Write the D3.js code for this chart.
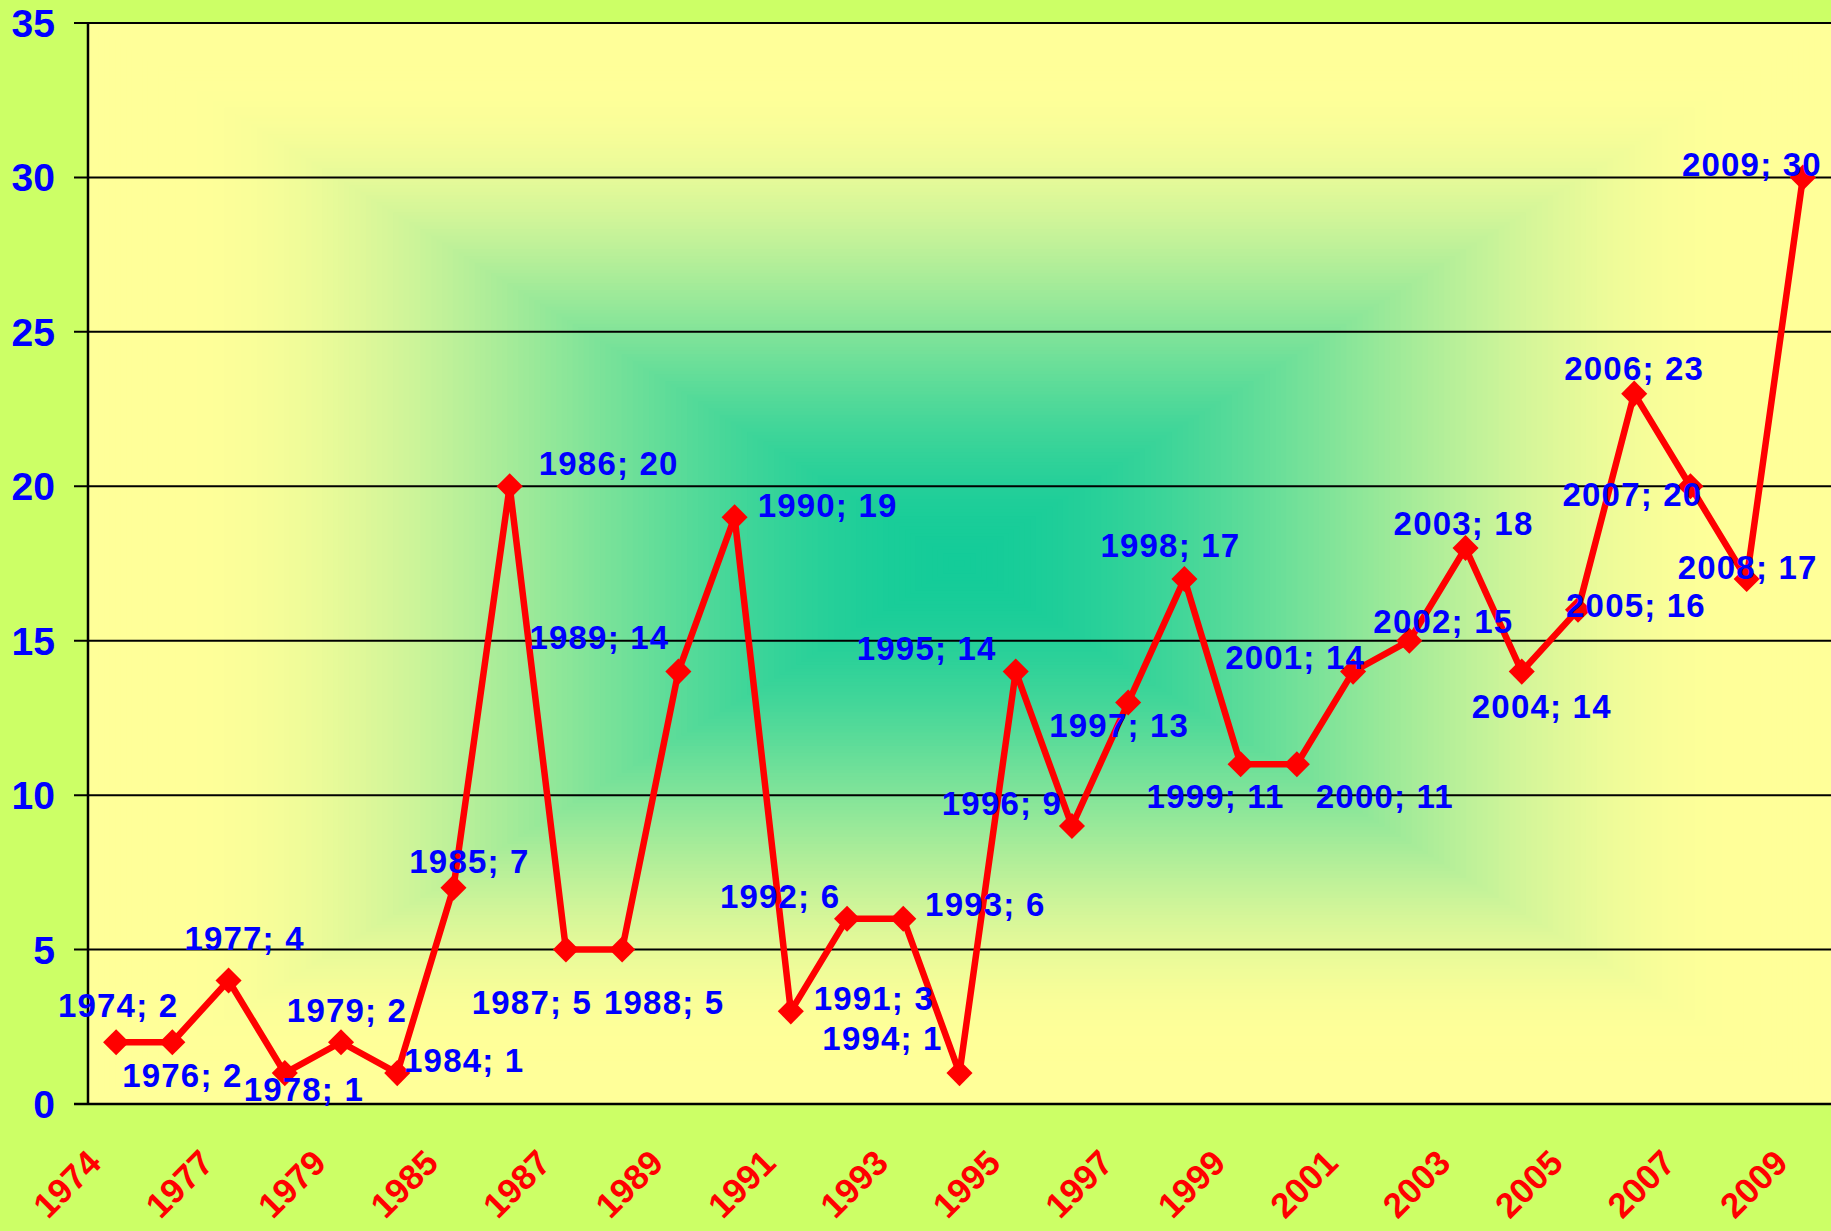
<!DOCTYPE html>
<html>
<head>
<meta charset="utf-8">
<script src="https://cdn.jsdelivr.net/npm/d3@7"></script>
<style>
  body { margin: 0; background: #ccff66; }
  svg { display: block; }
</style>
</head>
<body>
<div id="chart"></div>
<script>
// data
const years = ["1974", "1976", "1977", "1978", "1979", "1984", "1985", "1986", "1987", "1988",
  "1989", "1990", "1991", "1992", "1993", "1994", "1995", "1996", "1997", "1998",
  "1999", "2000", "2001", "2002", "2003", "2004", "2005", "2006", "2007", "2008", "2009"];
const values = [2, 2, 4, 1, 2, 1, 7, 20, 5, 5,
  14, 19, 3, 6, 6, 1, 14, 9, 13, 17,
  11, 11, 14, 15, 18, 14, 16, 23, 20, 17, 30];
const yTicks = [0, 5, 10, 15, 20, 25, 30, 35];
const tickYears = ["1974", "1977", "1979", "1985", "1987", "1989", "1991", "1993",
  "1995", "1997", "1999", "2001", "2003", "2005", "2007", "2009"];

// where each data label sits relative to its marker (layout only)
const labelOffsets = [[2, -37], [10, 33], [16, -42], [19, 16], [6, -32], [67, -13], [16, -27],
  [99, -23], [-34, 53], [42, 53], [-79, -34], [93, -12], [83, -13], [-67, -23], [82, -15],
  [-77, -35], [-89, -23], [-70, -23], [-9, 23], [-14, -34], [-25, 32], [88, 32], [-58, -14],
  [34, -20], [-2, -25], [20, 35], [58, -5], [0, -26], [-58, 8], [1, -12], [-51, -13]];

const width = 1831, height = 1231;
const margin = { top: 23, right: 0, bottom: 127, left: 88 };
const innerW = width - margin.left - margin.right;
const innerH = height - margin.top - margin.bottom;

const svg = d3.select("#chart")
  .append("svg")
  .attr("width", width)
  .attr("height", height);

svg.append("rect")
  .attr("width", width)
  .attr("height", height)
  .attr("fill", "#ccff66");

const g = svg.append("g")
  .attr("transform", `translate(${margin.left}, ${margin.top})`);

const x = d3.scaleBand().domain(years).range([0, innerW]).padding(0);
const y = d3.scaleLinear().domain([0, 35]).range([innerH, 0]);
const cx = (yr) => x(yr) + x.bandwidth() / 2;

// rectangular "from center" fill of the plot area
const steps = 160;
const fillColor = d3.interpolateRgb("#14cc99", "#ffff99");
const ease = (t) => {
  const u = Math.min(1, t / 0.9);
  return u * u * (3 - 2 * u);
};
g.append("g")
  .selectAll("rect")
  .data(d3.range(steps, 0, -1))
  .join("rect")
  .attr("x", (k) => innerW / 2 - (innerW / 2) * (k / steps))
  .attr("y", (k) => innerH / 2 - (innerH / 2) * (k / steps))
  .attr("width", (k) => innerW * (k / steps))
  .attr("height", (k) => innerH * (k / steps))
  .attr("fill", (k) => fillColor(ease(k / steps)));

// gridlines + y ticks
g.append("g")
  .selectAll("line")
  .data(yTicks)
  .join("line")
  .attr("x1", -14)
  .attr("x2", innerW)
  .attr("y1", (d) => y(d))
  .attr("y2", (d) => y(d))
  .attr("stroke", "#000")
  .attr("stroke-width", 2);

g.append("g")
  .selectAll("text")
  .data(yTicks)
  .join("text")
  .attr("x", -33)
  .attr("y", (d) => y(d))
  .attr("dy", "0.36em")
  .attr("text-anchor", "end")
  .attr("font-family", "Liberation Sans, Arial, sans-serif")
  .attr("font-weight", "bold")
  .attr("font-size", 39)
  .attr("fill", "#0000ff")
  .text((d) => d);

// axis lines
g.append("line")
  .attr("x1", 0).attr("x2", 0)
  .attr("y1", 0).attr("y2", innerH)
  .attr("stroke", "#000")
  .attr("stroke-width", 2.5);
g.append("line")
  .attr("x1", -14).attr("x2", innerW)
  .attr("y1", innerH).attr("y2", innerH)
  .attr("stroke", "#000")
  .attr("stroke-width", 2.5);

// x labels, every other year
g.append("g")
  .selectAll("text")
  .data(tickYears)
  .join("text")
  .attr("transform", (d) => `translate(${cx(d) - 22}, ${innerH + 52}) rotate(-45)`)
  .attr("dy", "0.36em")
  .attr("text-anchor", "end")
  .attr("font-family", "Liberation Sans, Arial, sans-serif")
  .attr("font-weight", "bold")
  .attr("font-size", 35)
  .attr("fill", "#ff0000")
  .text((d) => d);

// series
const points = years.map((yr, i) => ({ year: yr, value: values[i], off: labelOffsets[i] }));

const line = d3.line()
  .x((d) => cx(d.year))
  .y((d) => y(d.value));

g.append("path")
  .datum(points)
  .attr("d", line)
  .attr("fill", "none")
  .attr("stroke", "#ff0000")
  .attr("stroke-width", 6.5)
  .attr("stroke-linejoin", "round");

g.append("g")
  .selectAll("path")
  .data(points)
  .join("path")
  .attr("d", d3.symbol(d3.symbolSquare, 340))
  .attr("transform", (d) => `translate(${cx(d.year)}, ${y(d.value)}) rotate(45)`)
  .attr("fill", "#ff0000");

g.append("g")
  .selectAll("text")
  .data(points)
  .join("text")
  .attr("x", (d) => cx(d.year) + d.off[0])
  .attr("y", (d) => y(d.value) + d.off[1])
  .attr("dy", "0.36em")
  .attr("text-anchor", "middle")
  .attr("font-family", "Liberation Sans, Arial, sans-serif")
  .attr("font-weight", "bold")
  .attr("font-size", 33)
  .attr("letter-spacing", 1.2)
  .attr("fill", "#0000ff")
  .text((d) => `${d.year}; ${d.value}`);
</script>
</body>
</html>
